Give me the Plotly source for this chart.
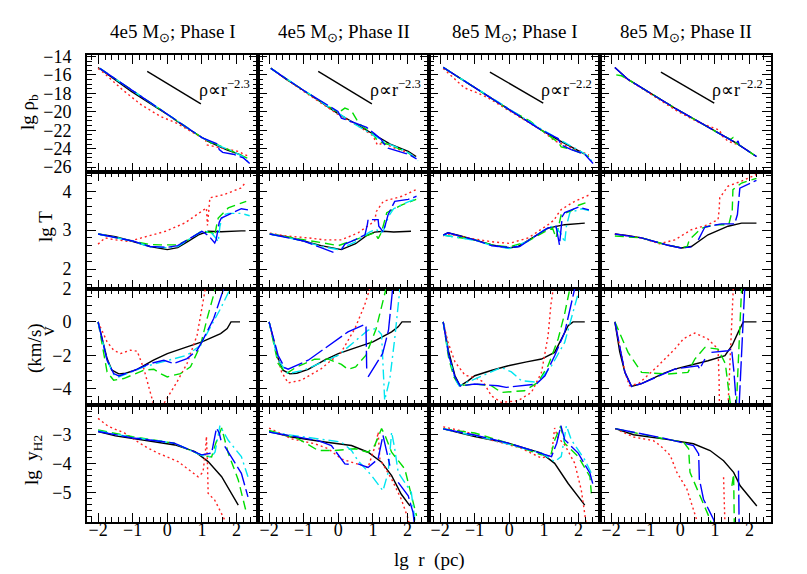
import plotly.graph_objects as go
from plotly.subplots import make_subplots

# ---------------- labels ----------------
COL_TITLES = ["4e5 M<sub>⊙</sub>; Phase I", "4e5 M<sub>⊙</sub>; Phase II",
              "8e5 M<sub>⊙</sub>; Phase I", "8e5 M<sub>⊙</sub>; Phase II"]
X_TITLE = "lg  r  (pc)"
X_TICKS = [-2, -1, 0, 1, 2]
Y_TICKS = [[-26, -24, -22, -20, -18, -16, -14], [2, 3, 4], [-4, -2, 0, 2], [-5, -4, -3]]
POWER_LAW_TEXT = ["ρ∝r<sup>−2.3</sup>", "ρ∝r<sup>−2.3</sup>", "ρ∝r<sup>−2.2</sup>", "ρ∝r<sup>−2.2</sup>"]
POWER_LAW_1 = [(-0.58, -15.63), (0.97, -19.14)]
POWER_LAW_2 = [(-0.56, -15.70), (0.98, -19.07)]

# ---------------- row 1 : lg rho_b ----------------
RHO_A_BLACK = [(-2, -15.2), (-1.5, -16.6), (-1.04, -17.8), (-0.5, -19.1), (0, -20.3), (0.5, -21.6), (1.18, -23.2), (1.7, -24.1), (2.14, -24.7)]
RHO_A_RED = [(-2, -15.3), (-1.8, -15.9), (-1.3, -17.6), (-0.75, -19.25), (-0.2, -20.5), (0.31, -21.3), (0.8, -22.4), (1.1, -23.0), (1.15, -23.6), (1.56, -23.95), (2.05, -24.3), (2.33, -24.8)]
RHO_A_GREEN = [(-1.95, -15.3), (-1.0, -17.7), (0, -20.3), (1.0, -22.8), (1.25, -23.3), (1.3, -23.7), (1.35, -23.4), (1.7, -24.0), (2.1, -24.6), (2.35, -25.1)]
RHO_A_BLUE = [(-1.95, -15.3), (-1, -17.7), (0, -20.3), (1.0, -22.8), (1.45, -23.5), (1.5, -24.1), (1.6, -24.4), (1.9, -24.6), (2.2, -25.0), (2.38, -25.6)]
RHO_A_CYAN = [(-1.95, -15.3), (-1, -17.7), (0, -20.3), (1.0, -22.8), (1.5, -23.7), (1.9, -24.3), (2.2, -24.9), (2.38, -25.6)]

RHO_B_BLACK = [(-1.95, -15.27), (-1.5, -16.5), (-1.0, -17.7), (-0.01, -20.2), (0.5, -21.3), (1.05, -22.5), (1.5, -23.5), (2.02, -24.3), (2.25, -24.85)]
RHO_B_RED = [(-1.95, -15.3), (-1.0, -17.8), (0, -20.3), (0.6, -21.6), (1.0, -22.6), (1.13, -23.6), (1.3, -23.4), (1.6, -23.9), (2.0, -24.4), (2.25, -24.9)]
RHO_B_GREEN = [(-1.95, -15.3), (-1.0, -17.7), (0.0, -20.1), (0.19, -19.6), (0.38, -19.9), (0.6, -21.3), (1.0, -22.4), (1.14, -23.2), (1.5, -23.6), (2.0, -24.4), (2.3, -25.2)]
RHO_B_BLUE = [(-1.95, -15.3), (-1.0, -17.7), (-0.01, -19.96), (0.09, -20.7), (0.48, -21.2), (0.82, -21.7), (1.05, -22.4), (1.24, -23.0), (1.3, -23.4), (1.44, -23.95), (2.02, -24.6), (2.26, -25.1)]
RHO_B_CYAN = [(-1.95, -15.3), (-1.0, -17.7), (0, -20.2), (0.5, -21.4), (1.0, -22.5), (1.4, -23.4), (1.8, -24.0), (2.1, -24.6), (2.3, -25.3)]

RHO_C_BLACK = [(-1.91, -15.2), (-1, -17.4), (0, -19.8), (0.93, -22.0), (1.41, -23.05), (2.18, -24.6)]
RHO_C_RED = [(-1.91, -15.3), (-1.3, -17.4), (-0.9, -18.0), (-0.61, -18.5), (0, -19.9), (0.93, -22.0), (1.31, -23.15), (1.7, -23.8), (2.08, -24.3), (2.3, -24.7)]
RHO_C_GREEN = [(-1.91, -15.2), (-1, -17.4), (0, -19.8), (0.6, -21.0), (0.93, -22.0), (1.41, -23.3), (1.5, -23.8), (1.89, -24.2), (2.3, -24.85)]
RHO_C_BLUE = [(-1.91, -15.2), (-1, -17.4), (0, -19.8), (0.93, -22.0), (1.41, -22.9), (1.5, -23.6), (1.79, -24.1), (2.18, -24.6), (2.42, -25.6)]
RHO_C_CYAN = [(-1.91, -15.2), (-1, -17.3), (0, -19.7), (0.93, -21.9), (1.6, -23.3), (1.9, -23.9), (2.2, -24.6), (2.4, -25.4)]

RHO_D_BLACK = [(-1.89, -15.2), (-1.51, -16.5), (-0.16, -19.6), (1.09, -22.3), (1.62, -23.4), (2.2, -24.85)]
RHO_D_RED = [(-1.6, -16.3), (-0.45, -19.1), (-0.1, -19.9), (0.5, -21.1), (1.14, -22.0), (1.2, -22.6), (1.38, -23.2), (1.7, -23.6)]
RHO_D_GREEN = [(-1.85, -16.0), (-1.7, -16.1), (-1.51, -16.5), (-0.16, -19.6), (1.09, -22.3), (1.45, -23.0), (1.52, -22.8), (1.55, -23.2), (1.62, -23.4), (2.2, -24.85)]
RHO_D_BLUE = [(-1.89, -15.2), (-1.51, -16.5), (-0.16, -19.6), (1.09, -22.3), (1.62, -23.4), (1.67, -23.15), (1.7, -23.6), (2.2, -24.85)]
RHO_D_CYAN = []

# ---------------- row 2 : lg T ----------------
T_A_BLACK = [(-2, 2.9), (-1.5, 2.83), (-1.04, 2.72), (-0.5, 2.58), (0, 2.5), (0.3, 2.55), (0.6, 2.71), (0.9, 2.88), (1.18, 2.97), (1.56, 2.96), (2.14, 2.98), (2.26, 2.98)]
T_A_RED = [(-2, 2.64), (-1.8, 2.8), (-1.5, 2.75), (-1.1, 2.71), (-0.75, 2.8), (-0.43, 2.87), (-0.05, 2.97), (0.5, 3.18), (0.99, 3.48), (1.13, 3.57), (1.16, 3.12), (1.2, 3.6), (1.23, 3.83), (1.63, 3.91), (2.12, 4.08), (2.25, 4.21)]
T_A_GREEN = [(-2, 2.9), (-1, 2.72), (-0.5, 2.63), (-0.2, 2.62), (0.3, 2.62), (0.6, 2.75), (1.0, 2.98), (1.3, 2.93), (1.37, 2.85), (1.42, 3.1), (1.47, 3.31), (1.76, 3.57), (2.28, 3.74)]
T_A_BLUE = [(-2, 2.9), (-1, 2.72), (-0.5, 2.58), (0, 2.56), (0.3, 2.6), (0.6, 2.75), (1.0, 2.97), (1.2, 2.85), (1.37, 2.67), (1.41, 2.75), (1.5, 3.2), (1.56, 3.31), (1.76, 3.4), (2.14, 3.55), (2.33, 3.52)]
T_A_CYAN = [(-2, 2.9), (-1, 2.72), (-0.5, 2.57), (0, 2.55), (0.3, 2.58), (0.6, 2.75), (1.0, 2.97), (1.25, 2.95), (1.4, 2.8), (1.47, 2.7), (1.52, 3.1), (1.6, 3.38), (1.76, 3.43), (2.14, 3.43), (2.38, 3.37)]

T_B_BLACK = [(-1.98, 2.9), (-1.5, 2.83), (-1, 2.72), (-0.5, 2.6), (0.09, 2.5), (0.5, 2.65), (0.8, 2.85), (1.05, 2.95), (1.3, 2.97), (1.6, 2.95), (2.1, 2.97)]
T_B_RED = [(-1.98, 2.92), (-1.5, 2.85), (-0.87, 2.8), (-0.4, 2.75), (0.09, 2.75), (0.57, 2.93), (1.05, 3.23), (1.1, 3.48), (1.3, 3.74), (1.84, 3.87), (2.25, 4.04)]
T_B_GREEN = [(-1.98, 2.9), (-1.3, 2.8), (-0.87, 2.75), (-0.5, 2.68), (0, 2.6), (0.5, 2.75), (1.05, 2.93), (1.15, 2.78), (1.25, 2.95), (1.4, 3.45), (1.84, 3.65), (2.25, 3.79)]
T_B_BLUE = [(-1.98, 2.9), (-1.0, 2.72), (-0.5, 2.55), (-0.14, 2.43), None, (0.09, 2.5), (0.19, 2.64), (0.48, 2.75), (0.77, 2.88), (0.84, 3.15), (0.86, 3.27), (1.15, 3.27), (1.17, 3.1), (1.3, 2.95), (1.44, 3.4), (1.63, 3.74), (2.02, 3.79), (2.26, 3.87)]
T_B_CYAN = [(-1.98, 2.9), (-1, 2.72), (-0.5, 2.58), (0, 2.5), (0.5, 2.7), (0.9, 2.95), (1.1, 3.02), (1.2, 2.92), (1.3, 2.98), (1.45, 3.35), (1.6, 3.55), (2.0, 3.72), (2.3, 3.82)]

T_C_BLACK = [(-1.91, 2.87), (-1.77, 2.93), (-1.4, 2.85), (-1.0, 2.75), (-0.5, 2.62), (-0.03, 2.54), (0.26, 2.58), (0.7, 2.82), (1.12, 3.05), (1.6, 3.14), (2.18, 3.18)]
T_C_RED = [(-1.91, 2.85), (-1.77, 2.9), (-1.0, 2.77), (-0.5, 2.7), (0, 2.66), (0.55, 2.8), (1.12, 3.14), (1.31, 3.27), (1.35, 3.35), (1.5, 3.53), (1.89, 3.74), (2.32, 3.91)]
T_C_GREEN = [(-1.91, 2.87), (-1, 2.75), (-0.5, 2.62), (0, 2.57), (0.5, 2.7), (1.0, 2.95), (1.25, 3.05), (1.35, 2.8), (1.4, 3.0), (1.5, 3.4), (1.8, 3.5), (2.0, 3.64), (2.2, 3.7)]
T_C_BLUE = [(-1.91, 2.87), (-1.77, 2.93), (-1, 2.75), (-0.5, 2.6), (0, 2.55), (0.3, 2.58), (0.7, 2.82), (1.1, 3.05), (1.35, 3.1), (1.45, 2.62), (1.53, 3.35), (1.6, 3.45), (2.0, 3.59), (2.3, 3.52)]
T_C_CYAN = [(-1.91, 2.87), (-1, 2.74), (-0.5, 2.6), (0, 2.53), (0.5, 2.7), (1.0, 3.0), (1.3, 3.12), (1.5, 2.9), (1.6, 2.68), (1.65, 3.1), (1.75, 3.45), (2.1, 3.55), (2.3, 3.5)]

T_D_BLACK = [(-1.89, 2.9), (-1.5, 2.86), (-1.12, 2.8), (-0.35, 2.61), (0.03, 2.54), (0.32, 2.58), (0.8, 2.88), (1.38, 3.1), (1.77, 3.18), (2.2, 3.18)]
T_D_RED = [(-1.89, 2.9), (-1.12, 2.8), (-0.6, 2.65), (-0.16, 2.75), (0.32, 3.01), (0.8, 3.14), (1.09, 3.27), (1.12, 3.5), (1.14, 3.83), (1.38, 4.13), (1.77, 4.26), (2.2, 4.43)]
T_D_GREEN = [(-1.89, 2.85), (-1.12, 2.8), (-0.35, 2.61), (0.03, 2.55), (0.2, 2.58), (0.26, 2.75), (0.61, 3.05), (1.0, 3.14), (1.4, 3.14), (1.5, 3.5), (1.52, 4.04), (1.77, 4.21), (2.2, 4.33)]
T_D_BLUE = [(-1.89, 2.9), (-1.12, 2.8), (-0.35, 2.61), (0.03, 2.54), (0.32, 2.57), None, (0.52, 2.75), (0.71, 3.08), (1.19, 3.16), (1.57, 3.16), (1.65, 3.4), (1.72, 4.08), (2.2, 4.28)]
T_D_CYAN = []

# ---------------- row 3 : v (km/s) ----------------
V_A_BLACK = [(-2, 0), (-1.74, -2.2), (-1.6, -2.9), (-1.4, -3.12), (-1.2, -3.08), (-0.87, -2.85), (-0.4, -2.3), (0, -1.9), (0.57, -1.5), (1.0, -1.2), (1.54, -0.7), (1.73, -0.4), (1.84, 0), (2.1, 0)]
V_A_RED = [(-2, 0), (-1.88, -0.6), (-1.74, -1.2), (-1.55, -1.7), (-1.35, -1.9), (-1.07, -1.7), (-0.87, -1.76), (-0.68, -2.8), (-0.39, -5.0), (-0.1, -4.9), (0.28, -3.6), (0.57, -2.5), (0.86, -0.8), (1.1, 2)]
V_A_GREEN = [(-2, 0), (-1.74, -3.0), (-1.55, -3.5), (-1.26, -3.4), (-0.68, -2.9), (-0.39, -2.84), (-0.2, -3.1), (0, -3.3), (0.38, -3.1), (0.67, -2.7), (0.96, -1.4), (1.15, 0.2), (1.39, 2)]
V_A_BLUE = [(-2, 0), (-1.74, -2.3), (-1.55, -3.1), (-1.4, -3.24), (-1.0, -2.95), (-0.5, -2.5), (-0.1, -2.3), (0.19, -2.5), (0.57, -2.2), (0.86, -1.7), (1.0, -1.2), (1.34, 0.2), (1.63, 2)]
V_A_CYAN = [(-2, 0), (-1.74, -2.3), (-1.55, -3.15), (-1.4, -3.3), (-0.68, -2.7), (0, -2.3), (0.57, -2.0), (0.96, -1.4), (1.34, 0), (1.54, 0.8), (1.82, 2)]

V_B_BLACK = [(-2, 0), (-1.74, -2.2), (-1.6, -2.9), (-1.4, -3.12), (-1.2, -3.08), (-0.87, -2.85), (-0.4, -2.3), (0, -1.9), (0.57, -1.5), (1.0, -1.2), (1.54, -0.6), (1.73, -0.3), (1.84, 0), (2.1, 0)]
V_B_RED = [(-2, 0), (-1.84, -1.36), (-1.64, -3.0), (-1.45, -3.66), (-1.07, -3.5), (-0.49, -2.8), (0.09, -1.8), (0.48, -0.4), (0.76, 1.0), (0.91, 2)]
V_B_GREEN = [(-2, 0), (-1.74, -2.5), (-1.5, -3.1), (-1.2, -2.7), (-0.68, -2.24), (-0.29, -2.23), (0.09, -2.55), (0.28, -2.85), (0.5, -2.7), (0.8, -2.0), (1.09, -0.43), (1.38, 2)]
V_B_BLUE = [(-2, 0), (-1.74, -2.0), (-1.55, -2.75), (-1.45, -2.84), (-0.87, -2.3), (-0.2, -1.3), (0.28, -0.6), (0.76, -0.16), (0.8, -0.3), (0.82, -2.8), None, (0.86, -3.3), (1.15, -2.3), (1.28, -1.9), (1.45, -0.5), (1.53, 1.0), (1.57, 2)]
V_B_CYAN = [(-2, 0), (-1.74, -2.3), (-1.45, -3.1), (-1.0, -2.9), (0, -2.0), (0.57, -1.0), (0.86, -0.5), (1.1, -0.4), (1.25, -0.76), (1.34, -4.7), (1.49, -3.4), (1.63, -1.0), (1.78, 2)]

V_C_BLACK = [(-1.91, 0), (-1.75, -1.8), (-1.57, -3.23), (-1.42, -3.83), (-1.2, -3.55), (-1.0, -3.23), (-0.5, -2.9), (-0.03, -2.63), (0.5, -2.4), (0.93, -2.23), (1.31, -1.83), (1.5, -1.0), (1.7, -0.23), (1.84, 0), (2.18, 0)]
V_C_RED = [(-1.91, 0), (-1.77, -1.23), (-1.57, -2.4), (-1.28, -3.2), (-1.0, -3.33), (-0.75, -3.6), (-0.52, -4.43), (-0.23, -4.83), (0.25, -4.73), (0.64, -4.23), (0.93, -3.03), (1.12, -0.83), (1.2, 1), (1.27, 2)]
V_C_GREEN = [(-1.91, 0), (-1.75, -2.2), (-1.6, -3.3), (-1.45, -3.83), (-1.0, -3.73), (-0.52, -3.83), (-0.23, -4.23), (0.44, -4.13), (0.83, -3.63), (1.12, -2.63), (1.41, -1.03), (1.6, 0.5), (1.75, 2)]
V_C_BLUE = [(-1.91, 0), (-1.75, -2.0), (-1.57, -3.3), (-1.42, -3.85), (-1.0, -3.73), (-0.33, -3.83), (-0.09, -3.93), (0.78, -3.73), (1.03, -3.23), (1.31, -2.03), (1.6, -0.63), (1.89, 2)]
V_C_CYAN = [(-1.91, 0), (-1.75, -2.0), (-1.57, -3.4), (-1.45, -3.83), (-1.0, -3.43), (-0.23, -2.73), (0.06, -3.0), (0.35, -3.53), (0.83, -3.63), (1.22, -2.63), (1.6, -1.23), (2.03, 2)]

V_D_BLACK = [(-1.89, 0), (-1.75, -1.8), (-1.6, -3.03), (-1.41, -3.87), (-1.12, -3.7), (-0.5, -3.1), (-0.16, -2.83), (0.4, -2.55), (0.8, -2.33), (1.29, -2.03), (1.5, -1.4), (1.67, -0.63), (1.82, 0), (2.2, 0)]
V_D_RED = [(-1.89, 0), (-1.8, -1.0), (-1.6, -3.0), (-1.47, -3.83), (-1.2, -3.7), (-0.64, -2.63), (-0.16, -1.63), (0.1, -1.0), (0.42, -0.67), (0.8, -1.03), (1.09, -1.63), (1.12, -3.5), (1.13, -5), None, (1.38, -5), (1.45, -2), (1.53, 2)]
V_D_GREEN = [(-1.89, 0), (-1.51, -1.83), (-1.12, -3.03), (-0.35, -3.13), (0.22, -3.03), (0.42, -2.23), (0.71, -1.53), (1.09, -1.63), (1.3, -2.5), (1.45, -5), None, (1.62, -5), (1.7, -1.5), (1.77, 2)]
V_D_BLUE = [(-1.89, 0), (-1.6, -3.03), (-1.41, -3.87), (-1.12, -3.7), (-0.16, -2.83), (0.51, -2.63), (0.56, -2.83), (0.71, -2.23), None, (0.9, -1.83), (1.38, -1.73), (1.48, -1.6), (1.55, -3), (1.62, -5), None, (1.7, -5), (1.78, -1), (1.86, 2)]
V_D_CYAN = []

# ---------------- row 4 : lg y_H2 ----------------
Y_A_BLACK = [(-2, -2.9), (-1.5, -3.05), (-0.75, -3.18), (0.22, -3.36), (0.8, -3.59), (1.18, -3.93), (1.57, -4.45), (1.8, -4.9), (2.05, -5.42)]
Y_A_RED = [(-2, -2.45), (-1.71, -2.72), (-1.24, -2.95), (-0.65, -3.41), (-0.27, -3.64), (0.31, -3.93), (0.89, -4.45), (1.03, -4.3), (1.1, -3.6), (1.13, -3.07), (1.16, -4.0), (1.18, -5.02), (1.37, -5.25), (1.71, -6.05)]
Y_A_GREEN = [(-2, -2.85), (-1, -3.08), (0.2, -3.3), (1.0, -3.72), (1.28, -3.77), (1.4, -3.3), (1.57, -2.78), (1.76, -3.64), (2.05, -4.56), (2.28, -5.66)]
Y_A_BLUE = [(-2, -2.9), (-1, -3.12), (0.2, -3.3), (0.99, -3.7), (1.28, -3.64), (1.42, -2.78), (1.5, -2.95), (1.55, -3.2), None, (1.66, -3.41), (2.14, -4.33), (2.33, -5.14)]
Y_A_CYAN = [(-2, -2.88), (-1, -3.1), (0.2, -3.3), (1.0, -3.72), (1.28, -3.77), (1.38, -3.6), (1.52, -2.7), (1.76, -3.2), (2.14, -3.76), (2.33, -4.45)]

Y_B_BLACK = [(-2, -2.9), (-1.35, -3.09), (-0.39, -3.26), (0.38, -3.38), (0.86, -3.61), (1.25, -3.95), (1.54, -4.41), (1.82, -5.05), (2.07, -5.45)]
Y_B_RED = [(-2, -2.78), (-1.35, -3.15), (-0.68, -3.32), (-0.29, -3.49), (0.09, -3.84), (0.57, -4.01), (0.86, -4.13), (1.1, -3.26), (1.15, -2.92), (1.2, -3.84), (1.54, -4.53), (1.82, -5.22), (2.02, -5.9), (2.05, -6.1)]
Y_B_GREEN = [(-2, -2.86), (-1.16, -3.15), (-0.58, -3.55), (-0.1, -3.55), (0.48, -3.49), (0.86, -3.61), (1.05, -3.38), (1.25, -2.8), (1.35, -3.03), (1.54, -3.61), (1.92, -4.18), (2.26, -5.79)]
Y_B_BLUE = [(-2, -2.92), (-0.58, -3.21), (-0.2, -3.38), (0, -3.72), (0.19, -4.01), (0.3, -4.02), None, (0.57, -4.01), (0.86, -4.13), (1.15, -3.84), (1.29, -3.03), (1.49, -4.07), None, (1.73, -4.64), (2.02, -5.1), (2.16, -5.68), (2.2, -6.1)]
Y_B_CYAN = [(-2, -2.92), (0.09, -3.26), (0.38, -3.55), (0.57, -3.9), (0.96, -4.41), (1.29, -4.93), (1.44, -4.3), (1.54, -2.92), (1.63, -3.49), (1.73, -4.3), (2.11, -4.99), (2.21, -5.79), (2.23, -6.1)]

Y_C_BLACK = [(-1.91, -2.81), (-1.0, -3.07), (-0.03, -3.3), (0.93, -3.64), (1.31, -3.99), (1.7, -4.68), (2.18, -5.42)]
Y_C_RED = [(-1.91, -2.74), (-1.3, -2.9), (-0.5, -3.2), (0.3, -3.45), (0.93, -3.81), (1.22, -3.7), (1.31, -2.78), (1.4, -3.1), (1.6, -3.36), (1.89, -3.99), (2.08, -4.91), (2.22, -6.06)]
Y_C_GREEN = [(-1.91, -2.81), (-1.0, -2.95), (-0.03, -3.3), (0.93, -3.7), (1.2, -3.7), (1.31, -3.2), (1.48, -2.72), (1.6, -3.3), (1.99, -3.76), (2.33, -4.45), (2.37, -5.02)]
Y_C_BLUE = [(-1.91, -2.81), (-1.0, -3.02), (-0.03, -3.3), (0.93, -3.64), (1.22, -3.76), (1.37, -3.3), (1.49, -2.7), (1.6, -3.18), (1.99, -3.64), (2.33, -4.33), (2.42, -4.73)]
Y_C_CYAN = [(-1.91, -2.81), (-0.5, -3.18), (0.93, -3.64), (1.31, -3.93), (1.5, -3.76), (1.65, -2.7), (1.79, -3.18), (2.18, -3.87), (2.42, -4.45)]

Y_D_BLACK = [(-1.88, -2.8), (-1.35, -3.01), (-0.39, -3.17), (0.38, -3.32), (0.86, -3.55), (1.25, -3.9), (1.54, -4.3), (1.73, -4.76), (2.21, -5.45)]
Y_D_RED = [(-1.88, -2.8), (-1.35, -3.09), (-0.78, -3.21), (-0.58, -3.38), (-0.29, -3.72), (-0.1, -4.3), (0.19, -4.87), (0.48, -5.91), (0.52, -6.1), None, (1.25, -4.47), (1.27, -5.2), (1.29, -6.1)]
Y_D_GREEN = [(-1.88, -2.8), (-0.39, -3.17), (0.09, -3.26), (0.24, -3.49), (0.28, -4.3), (0.57, -5.1), (0.86, -5.91), (0.9, -6.1), None, (1.49, -4.76), (1.54, -4.36), (1.56, -6.1)]
Y_D_BLUE = [(-1.88, -2.8), (-0.39, -3.15), (0.38, -3.38), (0.53, -3.67), (0.55, -4.53), (0.67, -5.22), (0.96, -5.91), (1.0, -6.1), None, (1.68, -4.24), (1.7, -6.1)]
Y_D_CYAN = []

PANELS = [
    [dict(black=RHO_A_BLACK, red=RHO_A_RED, green=RHO_A_GREEN, cyan=RHO_A_CYAN, blue=RHO_A_BLUE),
     dict(black=RHO_B_BLACK, red=RHO_B_RED, green=RHO_B_GREEN, cyan=RHO_B_CYAN, blue=RHO_B_BLUE),
     dict(black=RHO_C_BLACK, red=RHO_C_RED, green=RHO_C_GREEN, cyan=RHO_C_CYAN, blue=RHO_C_BLUE),
     dict(black=RHO_D_BLACK, red=RHO_D_RED, green=RHO_D_GREEN, cyan=RHO_D_CYAN, blue=RHO_D_BLUE)],
    [dict(black=T_A_BLACK, red=T_A_RED, green=T_A_GREEN, cyan=T_A_CYAN, blue=T_A_BLUE),
     dict(black=T_B_BLACK, red=T_B_RED, green=T_B_GREEN, cyan=T_B_CYAN, blue=T_B_BLUE),
     dict(black=T_C_BLACK, red=T_C_RED, green=T_C_GREEN, cyan=T_C_CYAN, blue=T_C_BLUE),
     dict(black=T_D_BLACK, red=T_D_RED, green=T_D_GREEN, cyan=T_D_CYAN, blue=T_D_BLUE)],
    [dict(black=V_A_BLACK, red=V_A_RED, green=V_A_GREEN, cyan=V_A_CYAN, blue=V_A_BLUE),
     dict(black=V_B_BLACK, red=V_B_RED, green=V_B_GREEN, cyan=V_B_CYAN, blue=V_B_BLUE),
     dict(black=V_C_BLACK, red=V_C_RED, green=V_C_GREEN, cyan=V_C_CYAN, blue=V_C_BLUE),
     dict(black=V_D_BLACK, red=V_D_RED, green=V_D_GREEN, cyan=V_D_CYAN, blue=V_D_BLUE)],
    [dict(black=Y_A_BLACK, red=Y_A_RED, green=Y_A_GREEN, cyan=Y_A_CYAN, blue=Y_A_BLUE),
     dict(black=Y_B_BLACK, red=Y_B_RED, green=Y_B_GREEN, cyan=Y_B_CYAN, blue=Y_B_BLUE),
     dict(black=Y_C_BLACK, red=Y_C_RED, green=Y_C_GREEN, cyan=Y_C_CYAN, blue=Y_C_BLUE),
     dict(black=Y_D_BLACK, red=Y_D_RED, green=Y_D_GREEN, cyan=Y_D_CYAN, blue=Y_D_BLUE)],
]

# ---------------- styling ----------------
STYLE = {
    "black": ("#000000", "solid"),
    "red": ("#ff2020", "2px,3px"),
    "green": ("#00dd00", "9px,5px"),
    "cyan": ("#00e5f0", "10px,4px,2px,4px"),
    "blue": ("#0000ff", "20px,4px"),
}
X_RANGE = [-2.32, 2.62]
Y_RANGES = [[-26.5, -13.85], [1.5, 4.5], [-5, 2], [-6, -2]]
Y_MINOR = [0.5, 0.2, 0.5, 0.2]
FONT = "Liberation Serif"

# plot area in pixels
W, H = 807, 574
L, R, T, B = 79, 763, 47, 514


def px2paper(px, py):
    return (px - L) / (R - L), (B - py) / (B - T)


def split(pairs):
    xs, ys = [], []
    for p in pairs:
        if p is None:
            xs.append(None)
            ys.append(None)
        else:
            xs.append(p[0])
            ys.append(p[1])
    return xs, ys


fig = make_subplots(rows=4, cols=4, horizontal_spacing=0, vertical_spacing=0)

for r in range(4):
    for c in range(4):
        for name in ["black", "red", "green", "cyan", "blue"]:
            pts = PANELS[r][c][name]
            if not pts:
                continue
            xs, ys = split(pts)
            color, dash = STYLE[name]
            fig.add_trace(go.Scatter(x=xs, y=ys, mode="lines", connectgaps=False,
                                     line=dict(color=color, width=1.4, dash=dash),
                                     showlegend=False, hoverinfo="skip"),
                          row=r + 1, col=c + 1)

# power-law guide lines in the density row
for c in range(4):
    seg = POWER_LAW_1 if c < 2 else POWER_LAW_2
    xs, ys = split(seg)
    fig.add_trace(go.Scatter(x=xs, y=ys, mode="lines", line=dict(color="black", width=1.4),
                             showlegend=False, hoverinfo="skip"), row=1, col=c + 1)
    fig.add_annotation(x=1.64, y=-17.45, xref=f"x{c + 1 if c else ''}", yref=f"y{c + 1 if c else ''}",
                       text=POWER_LAW_TEXT[c], showarrow=False, xanchor="center", yanchor="middle",
                       font=dict(family=FONT, size=18, color="black"))

tickfont = dict(family=FONT, size=18, color="black")
for r in range(4):
    for c in range(4):
        fig.update_xaxes(range=X_RANGE, tickmode="array", tickvals=X_TICKS,
                         ticks="inside", ticklen=9, tickwidth=1.2, tickcolor="black",
                         minor=dict(tickmode="linear", tick0=0, dtick=0.2, ticks="inside",
                                    ticklen=5, tickwidth=1.2, tickcolor="black"),
                         showline=True, linewidth=2, linecolor="black", mirror="ticks",
                         showgrid=False, zeroline=False,
                         showticklabels=(r == 3), tickfont=tickfont, ticklabelstandoff=-10,
                         row=r + 1, col=c + 1)
        fig.update_yaxes(range=Y_RANGES[r], tickmode="array", tickvals=Y_TICKS[r],
                         ticks="inside", ticklen=9, tickwidth=1.2, tickcolor="black",
                         minor=dict(tickmode="linear", tick0=0, dtick=Y_MINOR[r], ticks="inside",
                                    ticklen=5, tickwidth=1.2, tickcolor="black"),
                         showline=True, linewidth=2, linecolor="black", mirror="ticks",
                         showgrid=False, zeroline=False,
                         showticklabels=(c == 0), tickfont=tickfont, ticklabelstandoff=10,
                         row=r + 1, col=c + 1)

# column titles
for c in range(4):
    x, y = px2paper(L + (c + 0.5) * (R - L) / 4, 25)
    fig.add_annotation(x=x, y=y, xref="paper", yref="paper", text=COL_TITLES[c], showarrow=False,
                       xanchor="center", yanchor="middle",
                       font=dict(family=FONT, size=19, color="black"))

# row labels
ROW_LABEL_POS = [("lg ρ<sub>b</sub>", 21, 104), ("lg T", 37, 219), ("(km/s)", 27, 340), ("v", 39, 323),
                 ("lg  y<sub>H2</sub>", 25, 452)]
for text, px, py in ROW_LABEL_POS:
    x, y = px2paper(px, py)
    fig.add_annotation(x=x, y=y, xref="paper", yref="paper", text=text, showarrow=False, textangle=-90,
                       xanchor="center", yanchor="middle",
                       font=dict(family=FONT, size=19, color="black"))

x, y = px2paper(421, 552)
fig.add_annotation(x=x, y=y, xref="paper", yref="paper", text=X_TITLE, showarrow=False,
                   xanchor="center", yanchor="middle",
                   font=dict(family=FONT, size=19, color="black"))

fig.update_layout(width=W, height=H, margin=dict(l=L, r=W - R, t=T, b=H - B),
                  paper_bgcolor="white", plot_bgcolor="white", showlegend=False)

fig.write_html("out.html")
